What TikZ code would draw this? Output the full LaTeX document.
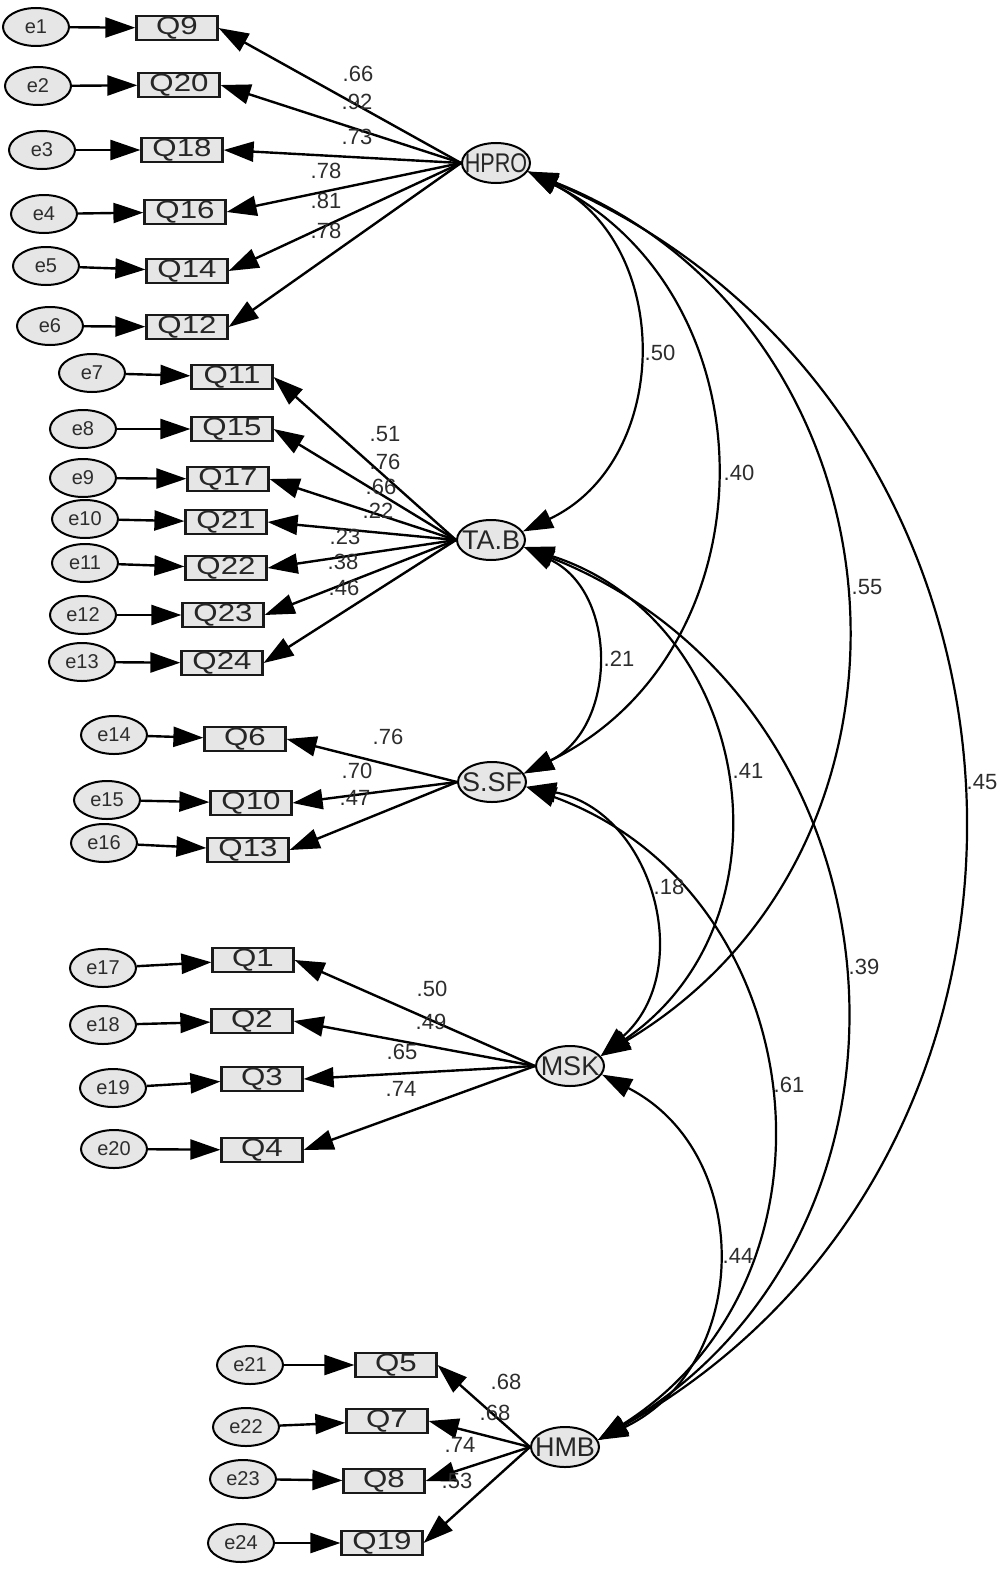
\documentclass[tikz,border=0pt]{standalone}
\usepackage{fontspec}
\setmainfont{Liberation Sans}
\usepackage{graphicx}
\usetikzlibrary{shapes.geometric,arrows.meta}
\definecolor{boxfill}{RGB}{230,230,230}
\definecolor{txtgray}{RGB}{45,45,45}
\newcommand{\qtxt}[1]{\scalebox{1.25}[1]{#1}}
\tikzset{
  errnode/.style={ellipse, draw=black, line width=2pt, fill=boxfill, minimum width=66pt, minimum height=38pt, inner sep=0pt, text=txtgray, font=\fontsize{20}{20}\selectfont},
  obsnode/.style={rectangle, draw=black!90, line width=2.2pt, fill=boxfill, minimum width=81pt, minimum height=24pt, inner sep=0pt, text=black!85, font=\fontsize{25}{25}\selectfont},
  latnode/.style={ellipse, draw=black, line width=2pt, fill=boxfill, minimum width=68pt, minimum height=40pt, inner xsep=-16pt, inner ysep=-8pt, text=black!85, font=\fontsize{27}{27}\selectfont},
  lbl/.style={inner sep=0pt, text=txtgray, font=\fontsize{22}{22}\selectfont},
  tip/.tip={Triangle[length=30pt,width=20pt]},
  arr/.style={-tip, line width=2.4pt},
  cov/.style={tip-tip, line width=2.2pt}
}
\begin{document}
\begin{tikzpicture}[x=1pt,y=-1pt]
\useasboundingbox (0,0) rectangle (1000,1576);
% latent variables
\node[latnode] (HPRO) at (496,163) {\scalebox{0.8}[1]{HPRO}};
\node[latnode] (TAB) at (491,540) {TA.B};
\node[latnode] (SSF) at (492,782) {S.SF};
\node[latnode] (MSK) at (570,1066) {MSK};
\node[latnode] (HMB) at (565,1447) {HMB};
% HPRO block
\node[errnode] (e1) at (36,27) {e1};   \node[obsnode] (Q9) at (177,28) {\qtxt{Q9}};
\node[errnode] (e2) at (38,86) {e2};   \node[obsnode] (Q20) at (179,85) {\qtxt{Q20}};
\node[errnode] (e3) at (42,150) {e3};  \node[obsnode] (Q18) at (182,150) {\qtxt{Q18}};
\node[errnode] (e4) at (44,214) {e4};  \node[obsnode] (Q16) at (185,212) {\qtxt{Q16}};
\node[errnode] (e5) at (46,266) {e5};  \node[obsnode] (Q14) at (187,271) {\qtxt{Q14}};
\node[errnode] (e6) at (50,326) {e6};  \node[obsnode] (Q12) at (187,327) {\qtxt{Q12}};
% TA.B block
\node[errnode] (e7) at (92,373) {e7};   \node[obsnode] (Q11) at (232,377) {\qtxt{Q11}};
\node[errnode] (e8) at (83,429) {e8};   \node[obsnode] (Q15) at (232,429) {\qtxt{Q15}};
\node[errnode] (e9) at (83,478) {e9};   \node[obsnode] (Q17) at (228,479) {\qtxt{Q17}};
\node[errnode] (e10) at (85,519) {e10}; \node[obsnode] (Q21) at (226,522) {\qtxt{Q21}};
\node[errnode] (e11) at (85,563) {e11}; \node[obsnode] (Q22) at (226,568) {\qtxt{Q22}};
\node[errnode] (e12) at (83,615) {e12}; \node[obsnode] (Q23) at (223,615) {\qtxt{Q23}};
\node[errnode] (e13) at (82,662) {e13}; \node[obsnode] (Q24) at (222,663) {\qtxt{Q24}};
% S.SF block
\node[errnode] (e14) at (114,735) {e14}; \node[obsnode] (Q6) at (245,739) {\qtxt{Q6}};
\node[errnode] (e15) at (107,800) {e15}; \node[obsnode] (Q10) at (251,803) {\qtxt{Q10}};
\node[errnode] (e16) at (104,843) {e16}; \node[obsnode] (Q13) at (248,850) {\qtxt{Q13}};
% MSK block
\node[errnode] (e17) at (103,968) {e17};  \node[obsnode] (Q1) at (253,960) {\qtxt{Q1}};
\node[errnode] (e18) at (103,1025) {e18}; \node[obsnode] (Q2) at (252,1021) {\qtxt{Q2}};
\node[errnode] (e19) at (113,1088) {e19}; \node[obsnode] (Q3) at (262,1079) {\qtxt{Q3}};
\node[errnode] (e20) at (114,1149) {e20}; \node[obsnode] (Q4) at (262,1150) {\qtxt{Q4}};
% HMB block
\node[errnode] (e21) at (250,1365) {e21}; \node[obsnode] (Q5) at (396,1365) {\qtxt{Q5}};
\node[errnode] (e22) at (246,1427) {e22}; \node[obsnode] (Q7) at (387,1421) {\qtxt{Q7}};
\node[errnode] (e23) at (243,1479) {e23}; \node[obsnode] (Q8) at (384,1481) {\qtxt{Q8}};
\node[errnode] (e24) at (241,1543) {e24}; \node[obsnode] (Q19) at (382,1543) {\qtxt{Q19}};
% error arrows
\foreach \e/\q in {e1/Q9,e2/Q20,e3/Q18,e4/Q16,e5/Q14,e6/Q12,e7/Q11,e8/Q15,e9/Q17,e10/Q21,e11/Q22,e12/Q23,e13/Q24,e14/Q6,e15/Q10,e16/Q13,e17/Q1,e18/Q2,e19/Q3,e20/Q4,e21/Q5,e22/Q7,e23/Q8,e24/Q19}
  \draw[arr] (\e) -- (\q);
% loadings
\foreach \q in {Q9,Q20,Q18,Q16,Q14,Q12} \draw[arr] (HPRO.west) -- (\q.east);
\foreach \q in {Q11,Q15,Q17,Q21,Q22,Q23,Q24} \draw[arr] (TAB.west) -- (\q.east);
\foreach \q in {Q6,Q10,Q13} \draw[arr] (SSF.west) -- (\q.east);
\foreach \q in {Q1,Q2,Q3,Q4} \draw[arr] (MSK.west) -- (\q.east);
\foreach \q in {Q5,Q7,Q8,Q19} \draw[arr] (HMB.west) -- (\q.east);
% loading labels
\node[lbl] (l1) at (358,74) {.66};
\node[lbl] (l2) at (357,102) {.92};
\node[lbl] (l3) at (357,137) {.73};
\node[lbl] (l4) at (326,171) {.78};
\node[lbl] (l5) at (326,201) {.81};
\node[lbl] (l6) at (326,231) {.78};
\node[lbl] (l7) at (385,434) {.51};
\node[lbl] (l8) at (385,462) {.76};
\node[lbl] (l9) at (381,487) {.66};
\node[lbl] (l10) at (378,511) {.22};
\node[lbl] (l11) at (345,537) {.23};
\node[lbl] (l12) at (343,562) {.38};
\node[lbl] (l13) at (344,588) {.46};
\node[lbl] (l14) at (388,737) {.76};
\node[lbl] (l15) at (357,771) {.70};
\node[lbl] (l16) at (355,798) {.47};
\node[lbl] (l17) at (432,989) {.50};
\node[lbl] (l18) at (431,1022) {.49};
\node[lbl] (l19) at (402,1052) {.65};
\node[lbl] (l20) at (401,1089) {.74};
\node[lbl] (l21) at (506,1382) {.68};
\node[lbl] (l22) at (495,1413) {.68};
\node[lbl] (l23) at (460,1445) {.74};
\node[lbl] (l24) at (457,1481) {.53};
% covariances
\draw[cov] (HPRO.-15) .. controls (674,245) and (672,461) .. (TAB.15);
\draw[cov] (HPRO.-15) .. controls (777,297) and (774,652) .. (SSF.15);
\draw[cov] (HPRO.-15) .. controls (914,325) and (956,844) .. (MSK.18);
\draw[cov] (HPRO.-15) .. controls (1071,405) and (1112,1150) .. (HMB.12);
\draw[cov] (TAB.-12) .. controls (619,593) and (617,728) .. (SSF.15);
\draw[cov] (TAB.-12) .. controls (755,622) and (799,920) .. (MSK.18);
\draw[cov] (TAB.-12) .. controls (913,702) and (956,1228) .. (HMB.12);
\draw[cov] (SSF.-8) .. controls (653,811) and (697,971) .. (MSK.18);
\draw[cov] (SSF.-8) .. controls (814,892) and (857,1276) .. (HMB.12);
\draw[cov] (MSK.-15) .. controls (755,1153) and (752,1366) .. (HMB.12);
% covariance labels
\node[lbl] (c1) at (660,353) {.50};
\node[lbl] (c2) at (739,473) {.40};
\node[lbl] (c3) at (867,587) {.55};
\node[lbl] (c4) at (982,782) {.45};
\node[lbl] (c5) at (619,659) {.21};
\node[lbl] (c6) at (748,771) {.41};
\node[lbl] (c7) at (669,887) {.18};
\node[lbl] (c8) at (864,967) {.39};
\node[lbl] (c9) at (789,1085) {.61};
\node[lbl] (c10) at (738,1256) {.44};
\end{tikzpicture}
\end{document}
